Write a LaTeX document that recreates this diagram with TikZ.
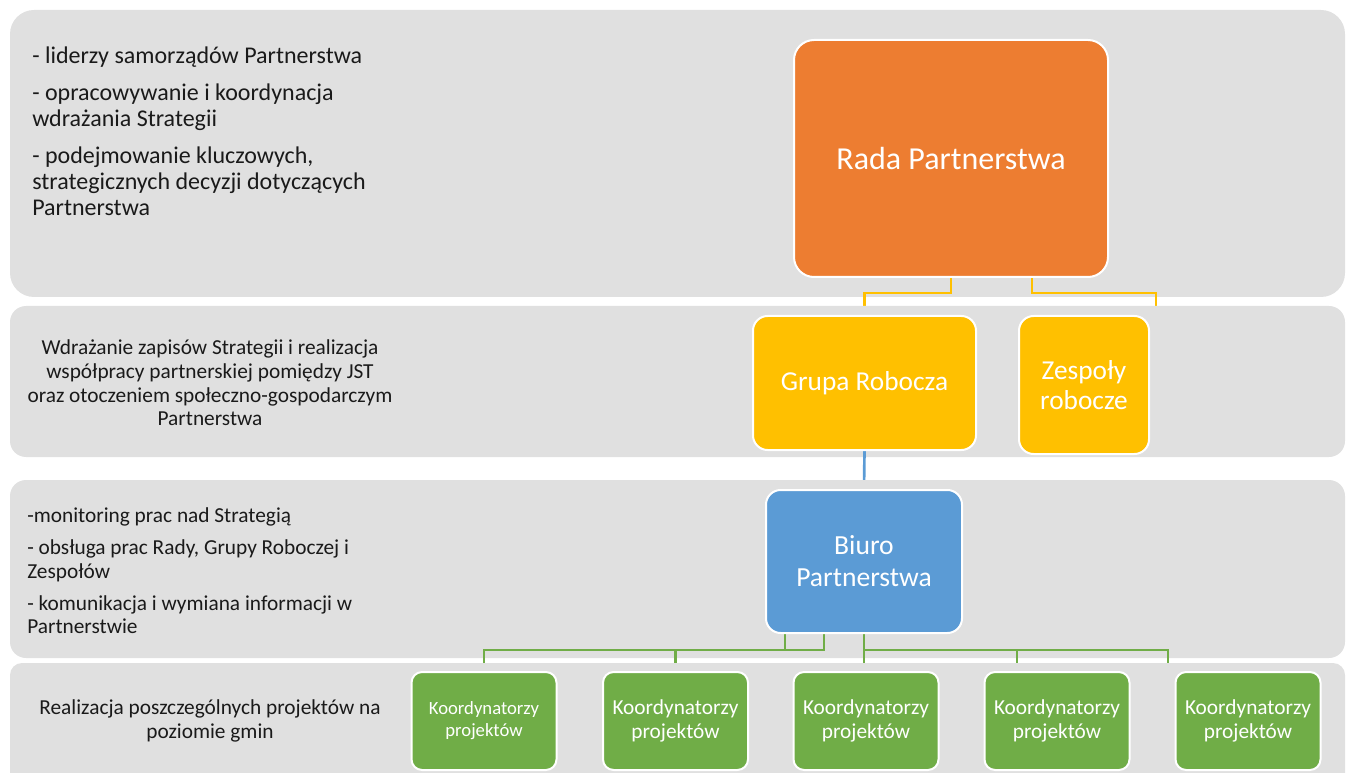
\documentclass[tikz,border=0pt]{standalone}
\usepackage{fontspec}
\setmainfont{Carlito}
\usetikzlibrary{positioning,calc}
\definecolor{band}{HTML}{E0E0E0}
\definecolor{orng}{HTML}{ED7D31}
\definecolor{ylw}{HTML}{FFC000}
\definecolor{blu}{HTML}{5B9BD5}
\definecolor{grn}{HTML}{70AD47}
\definecolor{ink}{HTML}{1A1A1A}
\pgfdeclarelayer{bandA}
\pgfdeclarelayer{lineA}
\pgfdeclarelayer{bandB}
\pgfdeclarelayer{lineB}
\pgfdeclarelayer{bandC}
\pgfdeclarelayer{lineC}
\pgfdeclarelayer{bandD}
\pgfsetlayers{bandA,lineA,bandB,lineB,bandC,lineC,bandD,main}
\tikzset{
  pas/.style  ={fill=band, draw=none},
  box/.style  ={draw=white, line width=1.5pt, rounded corners=11pt, text=white, align=center, inner sep=2pt},
  boxo/.style ={box, fill=orng, minimum width=235.5pt, minimum height=177.75pt, rounded corners=15pt, font=\fontsize{24}{28}\selectfont},
  boxy/.style ={box, fill=ylw, font=\fontsize{20.5}{22.5}\selectfont},
  boxb/.style ={box, fill=blu, minimum width=147pt, minimum height=107.25pt, font=\fontsize{20.7}{24}\selectfont},
  boxg/.style ={box, fill=grn, minimum width=108.75pt, minimum height=73.5pt, rounded corners=8pt, font=\fontsize{16}{18}\selectfont},
  ln/.style   ={line width=2pt},
  lny/.style  ={ln, draw=ylw},
  lnb/.style  ={ln, draw=blu},
  lng/.style  ={ln, draw=grn},
  txt/.style  ={align=left, inner sep=0pt, text=ink},
}
\begin{document}
\begin{tikzpicture}[x=0.75pt,y=-0.75pt]
    \useasboundingbox (0,0) rectangle (1349,773);
    \begin{pgfonlayer}{bandA}
      \fill[pas, rounded corners=18pt] (10,10) rectangle (1345,297);
    \end{pgfonlayer}
    \begin{pgfonlayer}{bandB}
      \fill[pas, rounded corners=12pt] (10,306) rectangle (1345,457);
    \end{pgfonlayer}
    \begin{pgfonlayer}{bandC}
      \fill[pas, rounded corners=12pt] (10,480) rectangle (1345,658);
    \end{pgfonlayer}
    \begin{pgfonlayer}{bandD}
      \fill[pas, rounded corners=9pt] (10,663) rectangle (1345,795);
    \end{pgfonlayer}

    \node[txt, anchor=north west, font=\fontsize{18}{19.8}\selectfont] (opisA) at (32,47)
      {- liderzy samorządów Partnerstwa\\[7.5pt] - opracowywanie i koordynacja\\ wdrażania Strategii\\[7.5pt] - podejmowanie kluczowych,\\ strategicznych decyzji dotyczących\\ Partnerstwa};
    \node[txt, align=center, font=\fontsize{16}{17.7}\selectfont] (opisB) at (210,383)
      {Wdrażanie zapisów Strategii i realizacja\\ współpracy partnerskiej pomiędzy JST\\ oraz otoczeniem społeczno-gospodarczym\\ Partnerstwa};
    \node[txt, anchor=north west, font=\fontsize{16}{17.6}\selectfont] (opisC) at (27,507)
      {-monitoring prac nad Strategią\\[6.75pt] - obsługa prac Rady, Grupy Roboczej i\\ Zespołów\\[6.75pt] - komunikacja i wymiana informacji w\\ Partnerstwie};
    \node[txt, align=center, font=\fontsize{16}{17.5}\selectfont] (opisD) at (210,721)
      {Realizacja poszczególnych projektów na\\ poziomie gmin};

    \node[boxo] (rada) at (951,158.5) {Rada Partnerstwa};
    \node[boxy, minimum width=167.25pt, minimum height=100.5pt] (grupa) at (864.5,383) {Grupa Robocza};
    \node[boxy, minimum width=97.5pt, minimum height=103.5pt] (zesp) at (1084,385) {Zespoły\\ robocze};
    \node[boxb] (biuro) at (864,561.5) {Biuro\\ Partnerstwa};
    \node[boxg, font=\fontsize{14}{16.5}\selectfont] (k1) at (484,721) {Koordynatorzy\\ projektów};
    \node[boxg] (k2) at (675.5,721) {Koordynatorzy\\ projektów};
    \node[boxg] (k3) at (866,721) {Koordynatorzy\\ projektów};
    \node[boxg] (k4) at (1057,721) {Koordynatorzy\\ projektów};
    \node[boxg] (k5) at (1248,721) {Koordynatorzy\\ projektów};
    \coordinate (zin) at (1156,316);
    \coordinate (k4in) at (1017,672);
    \coordinate (k5in) at (1168,672);

    \begin{pgfonlayer}{lineA}
      \draw[lny] (rada.south) -- ++(0,15) -| (grupa.north);
      \draw[lny] ($(rada.south)+(81,0)$) -- ++(0,15) -| (zin);
    \end{pgfonlayer}
    \begin{pgfonlayer}{lineB}
      \draw[lnb] (grupa.south) -- (biuro.north);
    \end{pgfonlayer}
    \begin{pgfonlayer}{lineC}
      \draw[lng] ($(biuro.south)+(-79,0)$) -- ++(0,16) -| (k1.north);
      \draw[lng] ($(biuro.south)+(-40,0)$) -- ++(0,16) -| (k2.north);
      \draw[lng] (biuro.south) -- (biuro.south |- k3.north);
      \draw[lng] (biuro.south) -- ++(0,16) -| (k4in);
      \draw[lng] (biuro.south) -- ++(0,16) -| (k5in);
    \end{pgfonlayer}
  \end{tikzpicture}
\end{document}
